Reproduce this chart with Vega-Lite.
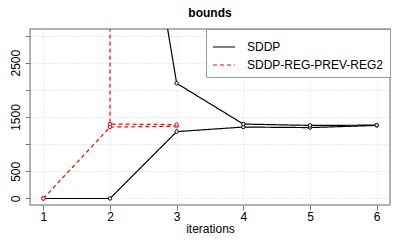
{
  "$schema": "https://vega.github.io/schema/vega-lite/v6.json",
  "width": 360,
  "height": 176,
  "autosize": {"type": "none"},
  "padding": {"left": 30, "top": 29, "right": 15, "bottom": 38},
  "title": {"text": "bounds", "fontSize": 12, "fontWeight": "bold", "font": "Liberation Sans", "anchor": "middle", "offset": 9, "color": "#000"},
  "config": {
    "font": "Liberation Sans",
    "view": {"stroke": "#999", "strokeWidth": 1.5},
    "axis": {"gridColor": "#ccc", "gridDash": [1, 2], "gridWidth": 0.8, "domain": false, "tickColor": "#777", "tickSize": 5, "labelFontSize": 12, "labelColor": "#000", "titleFontSize": 12, "titleFontWeight": "normal", "titleColor": "#000"}
  },
  "data": {"values": [
    {"iter": 1, "value": 0, "method": "SDDP", "bound": "lower"},
    {"iter": 2, "value": 0, "method": "SDDP", "bound": "lower"},
    {"iter": 3, "value": 1231, "method": "SDDP", "bound": "lower"},
    {"iter": 4, "value": 1315, "method": "SDDP", "bound": "lower"},
    {"iter": 5, "value": 1305, "method": "SDDP", "bound": "lower"},
    {"iter": 6, "value": 1345, "method": "SDDP", "bound": "lower"},
    {"iter": 1, "value": 1000000, "method": "SDDP", "bound": "upper"},
    {"iter": 2, "value": 9500, "method": "SDDP", "bound": "upper"},
    {"iter": 3, "value": 2120, "method": "SDDP", "bound": "upper"},
    {"iter": 4, "value": 1370, "method": "SDDP", "bound": "upper"},
    {"iter": 5, "value": 1345, "method": "SDDP", "bound": "upper"},
    {"iter": 6, "value": 1350, "method": "SDDP", "bound": "upper"},
    {"iter": 1, "value": 0, "method": "SDDP-REG-PREV-REG2", "bound": "lower"},
    {"iter": 2, "value": 1315, "method": "SDDP-REG-PREV-REG2", "bound": "lower"},
    {"iter": 3, "value": 1330, "method": "SDDP-REG-PREV-REG2", "bound": "lower"},
    {"iter": 1, "value": 10000000, "method": "SDDP-REG-PREV-REG2", "bound": "upper"},
    {"iter": 2, "value": 1370, "method": "SDDP-REG-PREV-REG2", "bound": "upper"},
    {"iter": 3, "value": 1360, "method": "SDDP-REG-PREV-REG2", "bound": "upper"}
  ]},
  "encoding": {
    "x": {"field": "iter", "type": "quantitative", "scale": {"domain": [0.8, 6.2], "nice": false, "zero": false},
      "axis": {"values": [1, 2, 3, 4, 5, 6], "title": "iterations", "labelPadding": 1, "titlePadding": 1}},
    "y": {"field": "value", "type": "quantitative", "scale": {"domain": [-120, 3120], "nice": false, "zero": false},
      "axis": {"values": [0, 500, 1000, 1500, 2000, 2500, 3000], "format": "d", "title": null, "labelAngle": 270, "labelAlign": "center", "labelBaseline": "bottom", "labelPadding": 3,
        "labelExpr": "datum.value == 0 || datum.value == 500 || datum.value == 1500 || datum.value == 2500 ? datum.label : ''"}},
    "color": {"field": "method", "type": "nominal", "scale": {"domain": ["SDDP", "SDDP-REG-PREV-REG2"], "range": ["#000000", "#ff0000"]},
      "legend": {"title": null, "orient": "top-right", "offset": 0, "symbolType": "stroke", "symbolSize": 484, "symbolStrokeWidth": 1.2, "labelFontSize": 12, "labelOffset": 11, "labelLimit": 300, "padding": 6, "rowPadding": -1, "strokeColor": "#999", "fillColor": "#ffffff"}}
  },
  "layer": [
    {
      "mark": {"type": "line", "clip": true, "strokeWidth": 1.2},
      "encoding": {
        "strokeDash": {"field": "method", "type": "nominal", "scale": {"domain": ["SDDP", "SDDP-REG-PREV-REG2"], "range": [[1, 0], [4, 3]]}, "legend": null},
        "detail": {"field": "bound"}
      }
    },
    {
      "mark": {"type": "point", "clip": true, "filled": false, "fill": "white", "size": 12, "strokeWidth": 1, "opacity": 1},
      "encoding": {"detail": {"field": "bound"}}
    }
  ]
}
